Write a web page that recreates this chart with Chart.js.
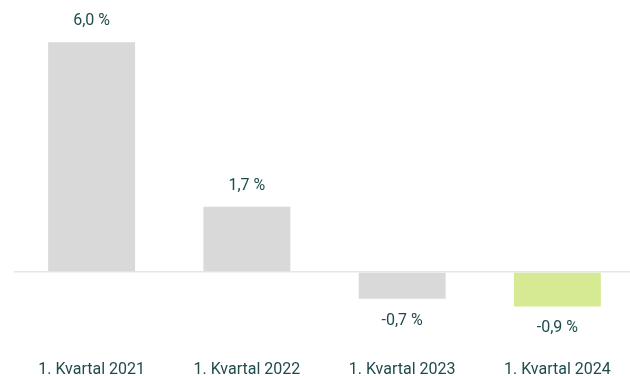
<!DOCTYPE html>
<html>
<head>
<meta charset="utf-8">
<script src="https://cdn.jsdelivr.net/npm/chart.js@4"></script>
<style>
  html,body{margin:0;padding:0;background:#fff;overflow:hidden;}
  #wrap{width:635px;height:390px;}
</style>
</head>
<body>
<div id="wrap"><canvas id="c"></canvas></div>
<script>
// Kvartalsvis endring
const labels = ['1. Kvartal 2021','1. Kvartal 2022','1. Kvartal 2023','1. Kvartal 2024'];
const values = [6.0, 1.7, -0.7, -0.9];
const colors = ['#d9d9d9','#d9d9d9','#d9d9d9','#d6ea93'];

const TEXT = '#1f4b4d';

const fmt = v => v.toFixed(1).replace('.',',')+' %';

// verdi-etiketter over/under søylene
const valueLabels = {
  id:'valueLabels',
  afterDatasetsDraw(chart){
    const {ctx} = chart;
    const meta = chart.getDatasetMeta(0);
    ctx.save();
    ctx.font = '16px Roboto';
    ctx.fillStyle = TEXT;
    ctx.textAlign = 'center';
    ctx.textBaseline = 'middle';
    meta.data.forEach((bar,i)=>{
      const v = values[i];
      const y = v>=0 ? bar.y-21 : bar.y+22;
      ctx.fillText(fmt(v), bar.x, y);
    });
    ctx.restore();
  }
};

new Chart(document.getElementById('c'), {
  type:'bar',
  data:{
    labels,
    datasets:[{
      data: values,
      backgroundColor: colors,
      borderWidth: 0,
      barPercentage: 0.56,
      categoryPercentage: 1
    }]
  },
  options:{
    responsive:true, maintainAspectRatio:false, animation:false,
    layout:{padding:{left:14, right:0, top:23, bottom:0}},
    plugins:{legend:{display:false}, tooltip:{enabled:false}},
    scales:{
      x:{
        grid:{display:false}, border:{display:false},
        ticks:{color:TEXT, font:{family:'Roboto', size:16}, padding:10, maxRotation:0}
      },
      y:{
        min:-1.85, max:6.5,
        ticks:{display:false},
        border:{display:false},
        grid:{
          drawTicks:false,
          lineWidth:1.5,
          color: c => c.tick.value===0 ? '#e6e6e6' : 'rgba(0,0,0,0)'
        },
        afterFit(s){ s.width = 0; }
      }
    }
  },
  plugins:[valueLabels]
});
</script>
</body>
</html>
